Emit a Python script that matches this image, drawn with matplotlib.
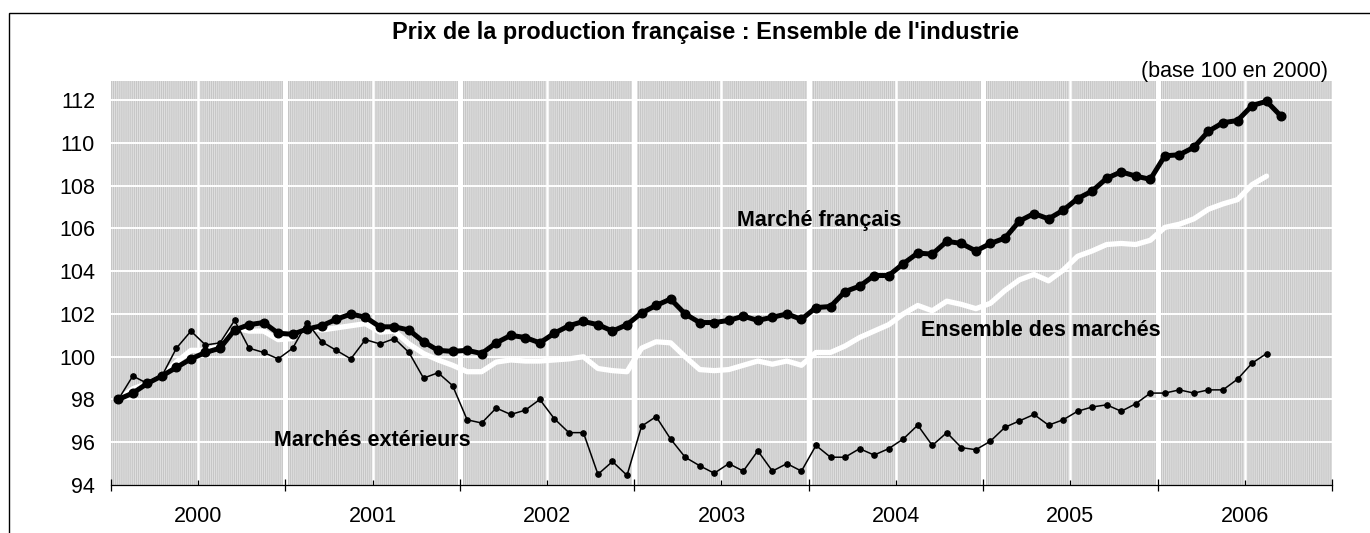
import numpy as np
import matplotlib
matplotlib.use('Agg')
import matplotlib.pyplot as plt
from matplotlib.patches import Rectangle

# ---------------- data ----------------
years = ['2000', '2001', '2002', '2003', '2004', '2005', '2006']
yticks = [94, 96, 98, 100, 102, 104, 106, 108, 110, 112]

marche_francais = [
    98.0, 98.3, 98.75, 99.1, 99.5, 99.9, 100.2, 100.4, 101.25, 101.5, 101.6, 101.1,
    101.05, 101.3, 101.45, 101.75, 102.0, 101.85, 101.4, 101.4, 101.25, 100.7, 100.3, 100.25,
    100.3, 100.15, 100.65, 101.0, 100.9, 100.65, 101.1, 101.45, 101.65, 101.5, 101.2, 101.5,
    102.05, 102.4, 102.7, 102.0, 101.6, 101.6, 101.7, 101.9, 101.7, 101.85, 102.0, 101.75,
    102.3, 102.35, 103.05, 103.3, 103.8, 103.8, 104.35, 104.85, 104.8, 105.4, 105.3, 104.95,
    105.3, 105.55, 106.35, 106.7, 106.45, 106.85, 107.4, 107.75, 108.35, 108.65, 108.45, 108.3,
    109.4, 109.45, 109.8, 110.55, 110.95, 111.05, 111.75, 111.95, 111.25,
]

ensemble_marches = [
    98.0, 98.5, 98.75, 99.1, 99.75, 100.3, 100.3, 100.5, 101.35, 101.2, 101.2, 100.8,
    100.85, 101.4, 101.25, 101.35, 101.45, 101.55, 101.15, 101.2, 100.6, 100.15, 99.85, 99.6,
    99.3, 99.3, 99.75, 99.85, 99.8, 99.8, 99.85, 99.9, 100.0, 99.45, 99.35, 99.3,
    100.4, 100.7, 100.65, 100.0, 99.4, 99.35, 99.4, 99.6, 99.8, 99.65, 99.8, 99.6,
    100.2, 100.2, 100.5, 100.9, 101.2, 101.5, 102.0, 102.4, 102.15, 102.6, 102.45, 102.25,
    102.5, 103.1, 103.6, 103.85, 103.55, 104.05, 104.7, 104.95, 105.25, 105.3, 105.25, 105.45,
    106.05, 106.2, 106.45, 106.9, 107.15, 107.35, 108.05, 108.45,
]

marches_exterieurs = [
    98.0, 99.1, 98.75, 99.1, 100.4, 101.2, 100.55, 100.65, 101.7, 100.4, 100.2, 99.9,
    100.4, 101.6, 100.7, 100.3, 99.9, 100.8, 100.6, 100.85, 100.2, 99.0, 99.25, 98.65,
    97.05, 96.9, 97.6, 97.3, 97.5, 98.0, 97.1, 96.45, 96.45, 94.5, 95.1, 94.45,
    96.75, 97.2, 96.15, 95.3, 94.9, 94.55, 95.0, 94.65, 95.6, 94.65, 95.0, 94.65,
    95.85, 95.3, 95.3, 95.7, 95.4, 95.7, 96.15, 96.8, 95.85, 96.45, 95.75, 95.65,
    96.05, 96.7, 97.0, 97.3, 96.8, 97.05, 97.45, 97.65, 97.75, 97.45, 97.8, 98.3,
    98.3, 98.45, 98.3, 98.45, 98.45, 98.95, 99.7, 100.15,
]

title = "Prix de la production française : Ensemble de l'industrie"
subtitle = "(base 100 en 2000)"
lbl_fr = "Marché français"
lbl_ens = "Ensemble des marchés"
lbl_ext = "Marchés extérieurs"

# ---------------- style ----------------
plt.rcParams['font.family'] = ['Liberation Sans', 'DejaVu Sans']
plt.rcParams['hatch.color'] = '#c2c2c2'
plt.rcParams['hatch.linewidth'] = 0.6

W, H = 1370, 533
fig = plt.figure(figsize=(W / 100, H / 100), dpi=100)

# outer frame (top & left visible)
fig.add_artist(Rectangle((9 / W, -0.2), 1.5, 1.2 - 12.5 / H, transform=fig.transFigure,
                         fill=False, edgecolor='black', linewidth=1.0))

ax = fig.add_axes([111 / W, (H - 485) / H, (1332 - 111) / W, (485 - 81) / H])
n_months = 12 * len(years)
ax.set_xlim(-0.5, n_months - 0.5)
ax.set_ylim(94, 112.9)

ax.patch.set_facecolor('#dedede')
ax.patch.set_hatch('|' * 8)
ax.patch.set_edgecolor('#c2c2c2')
ax.patch.set_linewidth(0)

year_bounds = np.arange(len(years) + 1) * 12 - 0.5
mid_years = np.arange(len(years)) * 12 + 5.5

for yv in yticks[1:]:
    ax.axhline(yv, color='white', lw=1.4, zorder=1)
for xb in year_bounds[1:-1]:
    ax.axvline(xb, color='white', lw=3.6, zorder=1)
for xm in mid_years:
    ax.axvline(xm, color='white', lw=1.8, zorder=1)

x_fr = np.arange(len(marche_francais))
x_ens = np.arange(len(ensemble_marches))
x_ext = np.arange(len(marches_exterieurs))

ax.plot(x_ens, ensemble_marches, color='white', lw=3.8, solid_joinstyle='round',
        solid_capstyle='round', zorder=3)
ax.plot(x_fr, marche_francais, color='black', lw=3.6, marker='o', ms=6.2,
        solid_joinstyle='round', zorder=4)
ax.plot(x_ext, marches_exterieurs, color='black', lw=1.1, marker='o', ms=3.8, zorder=5)

# axes / ticks
for s in ['left', 'top', 'right']:
    ax.spines[s].set_visible(False)
ax.spines['bottom'].set_linewidth(0.9)
ax.spines['bottom'].set_zorder(6)

ax.set_xticks(year_bounds)
ax.set_xticklabels([''] * len(year_bounds))
ax.set_xticks(mid_years, minor=True)
ax.set_xticklabels(years, minor=True)
ax.tick_params(axis='x', which='major', direction='inout', length=9, width=0.9)
ax.tick_params(axis='x', which='minor', direction='in', length=3.6, width=0.9,
               pad=15, labelsize=15.5)
ax.set_yticks(yticks)
ax.set_yticklabels([str(v) for v in yticks])
ax.tick_params(axis='y', which='both', length=0, pad=11.5, labelsize=15.5)

# texts
fig.text(706 / W, 1 - 33 / H, title, ha='center', va='center', fontsize=16.9,
         fontweight='bold')
fig.text(1328 / W, 1 - 71 / H, subtitle, ha='right', va='center', fontsize=15.5)

ax.text(48.2, 106.12, lbl_fr, ha='center', va='baseline', fontsize=15.5,
        fontweight='bold', zorder=7)
ax.text(63.5, 100.98, lbl_ens, ha='center', va='baseline', fontsize=15.5,
        fontweight='bold', zorder=7)
ax.text(17.5, 95.82, lbl_ext, ha='center', va='baseline', fontsize=15.5,
        fontweight='bold', zorder=7)

fig.savefig('out.png', dpi=100)
